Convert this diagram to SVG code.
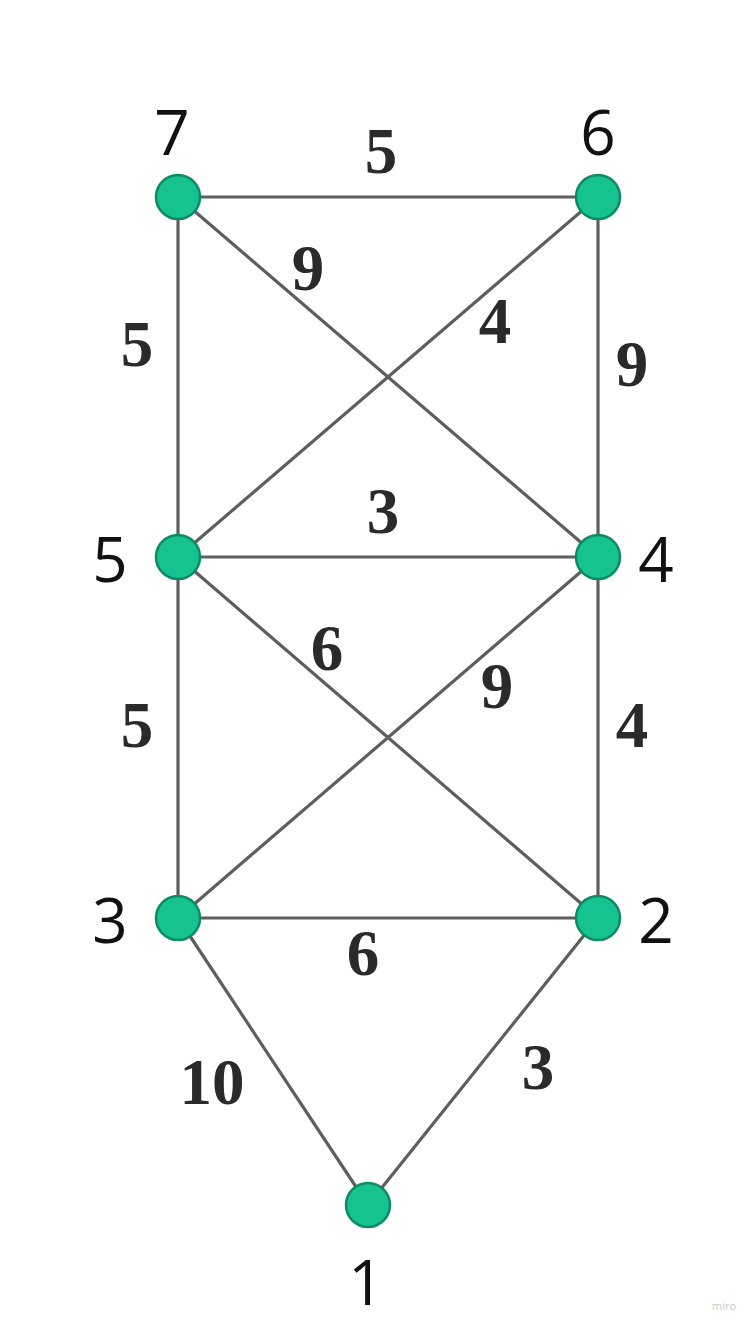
<svg xmlns="http://www.w3.org/2000/svg" width="753" height="1326" viewBox="0 0 753 1326">
<style>
.e{stroke:#5e5e5e;stroke-width:3.2;fill:none;stroke-linecap:round}
.n{fill:#16c28f;stroke:#0e8a66;stroke-width:2.5}
.nl{font-family:"Open Sans","Liberation Sans",sans-serif;font-size:62px;fill:#111;text-anchor:middle}
.w{font-family:"Liberation Serif","Times New Roman",serif;font-weight:bold;font-size:65px;fill:#2a2a2a;text-anchor:middle}
.m{font-family:"Open Sans","Liberation Sans",sans-serif;font-size:11px;fill:#c8c8c8}
</style>
<rect width="753" height="1326" fill="#ffffff"/>
<g id="edges">
<line class="e" x1="178" y1="197" x2="598" y2="197"/>
<line class="e" x1="178" y1="197" x2="178" y2="557"/>
<line class="e" x1="598" y1="197" x2="598" y2="557"/>
<line class="e" x1="178" y1="197" x2="598" y2="557"/>
<line class="e" x1="598" y1="197" x2="178" y2="557"/>
<line class="e" x1="178" y1="557" x2="598" y2="557"/>
<line class="e" x1="178" y1="557" x2="178" y2="918"/>
<line class="e" x1="598" y1="557" x2="598" y2="918"/>
<line class="e" x1="178" y1="557" x2="598" y2="918"/>
<line class="e" x1="598" y1="557" x2="178" y2="918"/>
<line class="e" x1="178" y1="918" x2="598" y2="918"/>
<line class="e" x1="178" y1="918" x2="368" y2="1205"/>
<line class="e" x1="598" y1="918" x2="368" y2="1205"/>
</g>
<g id="weights">
<text class="w" x="381" y="173">5</text>
<text class="w" x="308" y="290">9</text>
<text class="w" x="495" y="343">4</text>
<text class="w" x="137" y="366">5</text>
<text class="w" x="632" y="386">9</text>
<text class="w" x="383" y="533">3</text>
<text class="w" x="327" y="670">6</text>
<text class="w" x="497" y="708">9</text>
<text class="w" x="137" y="747">5</text>
<text class="w" x="632" y="747">4</text>
<text class="w" x="363" y="975">6</text>
<text class="w" x="212" y="1104">10</text>
<text class="w" x="538" y="1089">3</text>
</g>
<g id="node7"><circle class="n" cx="178" cy="197" r="22"/><text class="nl" x="172" y="155">7</text></g>
<g id="node6"><circle class="n" cx="598" cy="197" r="22"/><text class="nl" x="598" y="155">6</text></g>
<g id="node5"><circle class="n" cx="178" cy="557" r="22"/><text class="nl" x="110" y="582">5</text></g>
<g id="node4"><circle class="n" cx="598" cy="557" r="22"/><text class="nl" x="656" y="582">4</text></g>
<g id="node3"><circle class="n" cx="178" cy="918" r="22"/><text class="nl" x="110" y="943">3</text></g>
<g id="node2"><circle class="n" cx="598" cy="918" r="22"/><text class="nl" x="656" y="943">2</text></g>
<g id="node1"><circle class="n" cx="368" cy="1205" r="22"/><text class="nl" x="366" y="1305">1</text></g>
<text class="m" x="712" y="1310">miro</text>
</svg>
